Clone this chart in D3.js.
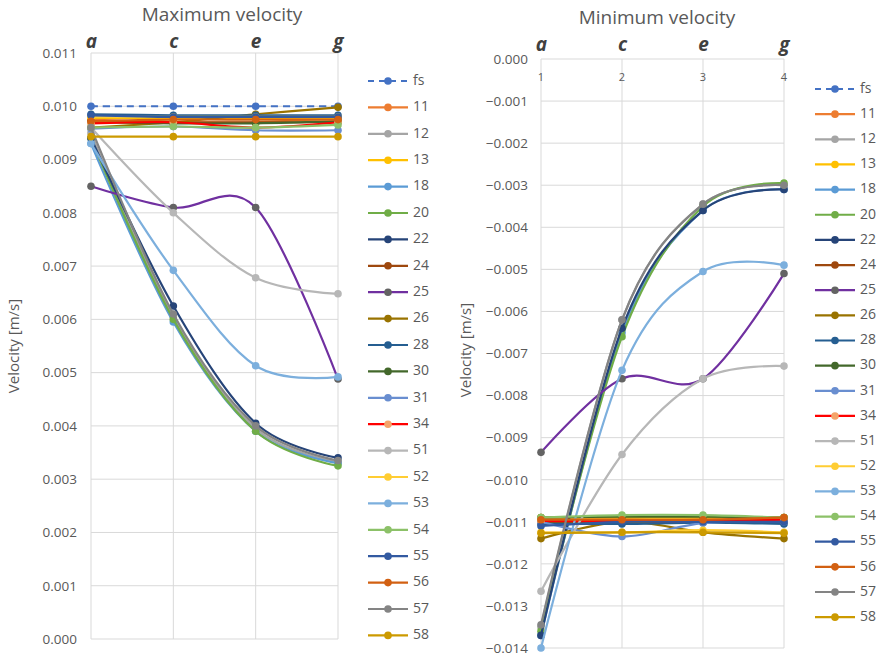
<!DOCTYPE html>
<html>
<head>
<meta charset="utf-8">
<script src="https://cdn.jsdelivr.net/npm/d3@7"></script>
<style>
  html, body { margin: 0; padding: 0; background: #fff; }
  svg { display: block; font-family: "Open Sans", "Liberation Sans", sans-serif; }
</style>
</head>
<body>
<svg id="chart" width="876" height="658"></svg>
<script>
// Measurement stations along the channel and their sequence numbers
const stations = ["a", "c", "e", "g"];
const stationNumbers = ["1", "2", "3", "4"];

// Series names (fs = free stream reference)
const seriesNames = ["fs", "11", "12", "13", "18", "20", "22", "24", "25", "26", "28",
                     "30", "31", "34", "51", "52", "53", "54", "55", "56", "57", "58"];

// Maximum velocity [m/s] at stations a, c, e, g
const maxVelocity = [
  [0.0100, 0.0100, 0.0100, 0.0100],     // fs
  [0.00975, 0.00970, 0.00970, 0.00978], // 11
  [0.00950, 0.00605, 0.00395, 0.00332], // 12
  [0.00978, 0.00978, 0.00978, 0.00978], // 13
  [0.00930, 0.00595, 0.00390, 0.00330], // 18
  [0.00940, 0.00600, 0.00390, 0.00325], // 20
  [0.00940, 0.00625, 0.00405, 0.00340], // 22
  [0.00972, 0.00970, 0.00970, 0.00970], // 24
  [0.00850, 0.00810, 0.00810, 0.00488], // 25
  [0.00960, 0.00970, 0.00985, 0.00998], // 26
  [0.00985, 0.00983, 0.00983, 0.00983], // 28
  [0.00970, 0.00968, 0.00968, 0.00972], // 30
  [0.00958, 0.00962, 0.00955, 0.00955], // 31
  [0.00968, 0.00970, 0.00960, 0.00970], // 34
  [0.00960, 0.00800, 0.00678, 0.00648], // 51
  [0.00980, 0.00980, 0.00980, 0.00980], // 52
  [0.00930, 0.00692, 0.00513, 0.00492], // 53
  [0.00960, 0.00962, 0.00960, 0.00965], // 54
  [0.00983, 0.00980, 0.00980, 0.00980], // 55
  [0.00972, 0.00975, 0.00975, 0.00975], // 56
  [0.00960, 0.00610, 0.00400, 0.00335], // 57
  [0.00943, 0.00943, 0.00943, 0.00943]  // 58
];

// Minimum velocity [m/s] at stations a, c, e, g
const minVelocity = [
  [-0.01098, -0.01098, -0.01098, -0.01098], // fs
  [-0.01095, -0.01095, -0.01095, -0.01095], // 11
  [-0.01350, -0.00620, -0.00345, -0.00300], // 12
  [-0.01090, -0.01090, -0.01090, -0.01090], // 13
  [-0.01370, -0.00650, -0.00360, -0.00310], // 18
  [-0.01360, -0.00660, -0.00350, -0.00295], // 20
  [-0.01370, -0.00640, -0.00360, -0.00310], // 22
  [-0.01100, -0.01100, -0.01100, -0.01100], // 24
  [-0.00935, -0.00760, -0.00760, -0.00510], // 25
  [-0.01140, -0.01100, -0.01125, -0.01140], // 26
  [-0.01105, -0.01105, -0.01102, -0.01105], // 28
  [-0.01090, -0.01088, -0.01088, -0.01090], // 30
  [-0.01100, -0.01135, -0.01103, -0.01100], // 31
  [-0.01098, -0.01098, -0.01098, -0.01095], // 34
  [-0.01265, -0.00940, -0.00760, -0.00730], // 51
  [-0.01125, -0.01125, -0.01120, -0.01125], // 52
  [-0.01400, -0.00740, -0.00505, -0.00490], // 53
  [-0.01090, -0.01084, -0.01084, -0.01090], // 54
  [-0.01110, -0.01100, -0.01100, -0.01100], // 55
  [-0.01095, -0.01095, -0.01095, -0.01090], // 56
  [-0.01345, -0.00620, -0.00345, -0.00300], // 57
  [-0.01127, -0.01125, -0.01125, -0.01127]  // 58
];

// Axis tick values
const maxTicks = [0, 0.001, 0.002, 0.003, 0.004, 0.005, 0.006, 0.007, 0.008, 0.009, 0.010, 0.011];
const minTicks = [0, -0.001, -0.002, -0.003, -0.004, -0.005, -0.006, -0.007,
                  -0.008, -0.009, -0.010, -0.011, -0.012, -0.013, -0.014];

// Line and marker colours per series
const lineColors = ["#4472C4", "#ED7D31", "#A5A5A5", "#FFC000", "#5B9BD5", "#70AD47", "#264478",
                    "#9E480E", "#7030A0", "#997300", "#255E91", "#43682B", "#698ED0", "#FF0000",
                    "#B7B7B7", "#FFCD33", "#7CAFDD", "#8CC168", "#335AA1", "#D26012", "#848484", "#CC9A00"];
const markerColors = ["#4472C4", "#ED7D31", "#A5A5A5", "#FFC000", "#5B9BD5", "#70AD47", "#264478",
                      "#9E480E", "#636363", "#997300", "#255E91", "#43682B", "#698ED0", "#F4A46A",
                      "#B7B7B7", "#FFCD33", "#7CAFDD", "#8CC168", "#335AA1", "#D26012", "#848484", "#CC9A00"];

const svg = d3.select("#chart");
const fmt = d3.format(".3f");
const textColor = "#595959";

function drawPanel(opt) {
  const g = svg.append("g");
  const x = d3.scalePoint().domain(stations).range([opt.left, opt.right]);
  const y = d3.scaleLinear().domain(opt.domain).range([opt.bottom, opt.top]);

  // Gridlines
  g.append("g").selectAll("line.h").data(opt.ticks).join("line")
    .attr("x1", opt.left).attr("x2", opt.right)
    .attr("y1", d => y(d)).attr("y2", d => y(d))
    .attr("stroke", "#D9D9D9").attr("stroke-width", 1);
  g.append("g").selectAll("line.v").data(stations).join("line")
    .attr("x1", d => x(d)).attr("x2", d => x(d))
    .attr("y1", opt.top).attr("y2", opt.bottom)
    .attr("stroke", "#D9D9D9").attr("stroke-width", 1);

  // Value axis
  const yAxis = d3.axisLeft(y).tickValues(opt.ticks).tickFormat(fmt).tickSize(0).tickPadding(0);
  const ya = g.append("g").attr("transform", `translate(${opt.labelX},0)`).call(yAxis);
  ya.select(".domain").remove();
  ya.selectAll("text").attr("fill", textColor).style("font-size", "13.5px")
    .style("font-family", "'Open Sans', sans-serif");

  // Station letters along the top
  const xa = g.append("g").attr("transform", `translate(0,${opt.letterY})`)
    .call(d3.axisTop(x).tickSize(0).tickPadding(0));
  xa.select(".domain").remove();
  xa.selectAll("text").attr("fill", "#404040").style("font-size", "19px")
    .style("font-weight", "bold").style("font-style", "italic")
    .style("font-family", "'Open Sans', sans-serif");

  // Optional sequence numbers under the zero line
  if (opt.numberLabels) {
    g.append("g").selectAll("text").data(stations).join("text")
      .attr("x", d => x(d)).attr("y", opt.top + 22)
      .attr("text-anchor", "middle").attr("fill", textColor)
      .style("font-size", "11px").text((d, i) => stationNumbers[i]);
  }

  // Title
  g.append("text").attr("x", opt.titleX).attr("y", opt.titleY)
    .attr("text-anchor", "middle").attr("fill", textColor)
    .style("font-size", "19px").text(opt.title);

  // Axis title
  g.append("text")
    .attr("transform", `translate(${opt.axisTitleX},${opt.axisTitleY}) rotate(-90)`)
    .attr("text-anchor", "middle").attr("dominant-baseline", "middle")
    .attr("fill", textColor).style("font-size", "15px").text("Velocity [m/s]");

  // Series
  const line = d3.line()
    .x((d, i) => x(stations[i]))
    .y(d => y(d))
    .curve(d3.curveCardinal.tension(0));

  const series = seriesNames.map((name, i) => ({ name, i, values: opt.values[i] }));
  const sg = g.append("g").selectAll("g").data(series).join("g");
  sg.append("path")
    .attr("d", d => line(d.values))
    .attr("fill", "none")
    .attr("stroke", d => lineColors[d.i])
    .attr("stroke-width", 2.2)
    .attr("stroke-dasharray", d => d.name === "fs" ? "7,5" : null);
  sg.selectAll("circle").data(d => d.values.map((v, k) => ({ v, k, i: d.i }))).join("circle")
    .attr("cx", d => x(stations[d.k]))
    .attr("cy", d => y(d.v))
    .attr("r", 3.8)
    .attr("fill", d => markerColors[d.i]);

  // Legend
  const lg = g.append("g").selectAll("g").data(series).join("g")
    .attr("transform", d => `translate(${opt.legendX},${opt.legendY + d.i * opt.legendStep})`);
  lg.append("line").attr("x1", 0).attr("x2", 40).attr("y1", 0).attr("y2", 0)
    .attr("stroke", d => lineColors[d.i]).attr("stroke-width", 2.2)
    .attr("stroke-dasharray", d => d.name === "fs" ? "6,5" : null);
  lg.append("circle").attr("cx", 20).attr("cy", 0).attr("r", 3.8)
    .attr("fill", d => markerColors[d.i]);
  lg.append("text").attr("x", 45).attr("y", 0).attr("dominant-baseline", "middle")
    .attr("fill", textColor).style("font-size", "14px").text(d => d.name);
}

drawPanel({
  title: "Maximum velocity", titleX: 222, titleY: 21,
  left: 91, right: 338, top: 53, bottom: 639,
  domain: [0, 0.011], ticks: maxTicks, values: maxVelocity,
  labelX: 77, letterY: 48,
  axisTitleX: 15, axisTitleY: 346,
  legendX: 368, legendY: 81, legendStep: 26.4
});

drawPanel({
  title: "Minimum velocity", titleX: 657, titleY: 24,
  left: 541, right: 784, top: 59, bottom: 648,
  domain: [-0.014, 0], ticks: minTicks, values: minVelocity,
  labelX: 528, letterY: 51, numberLabels: true,
  axisTitleX: 467, axisTitleY: 350,
  legendX: 815, legendY: 89, legendStep: 25.15
});
</script>
</body>
</html>
